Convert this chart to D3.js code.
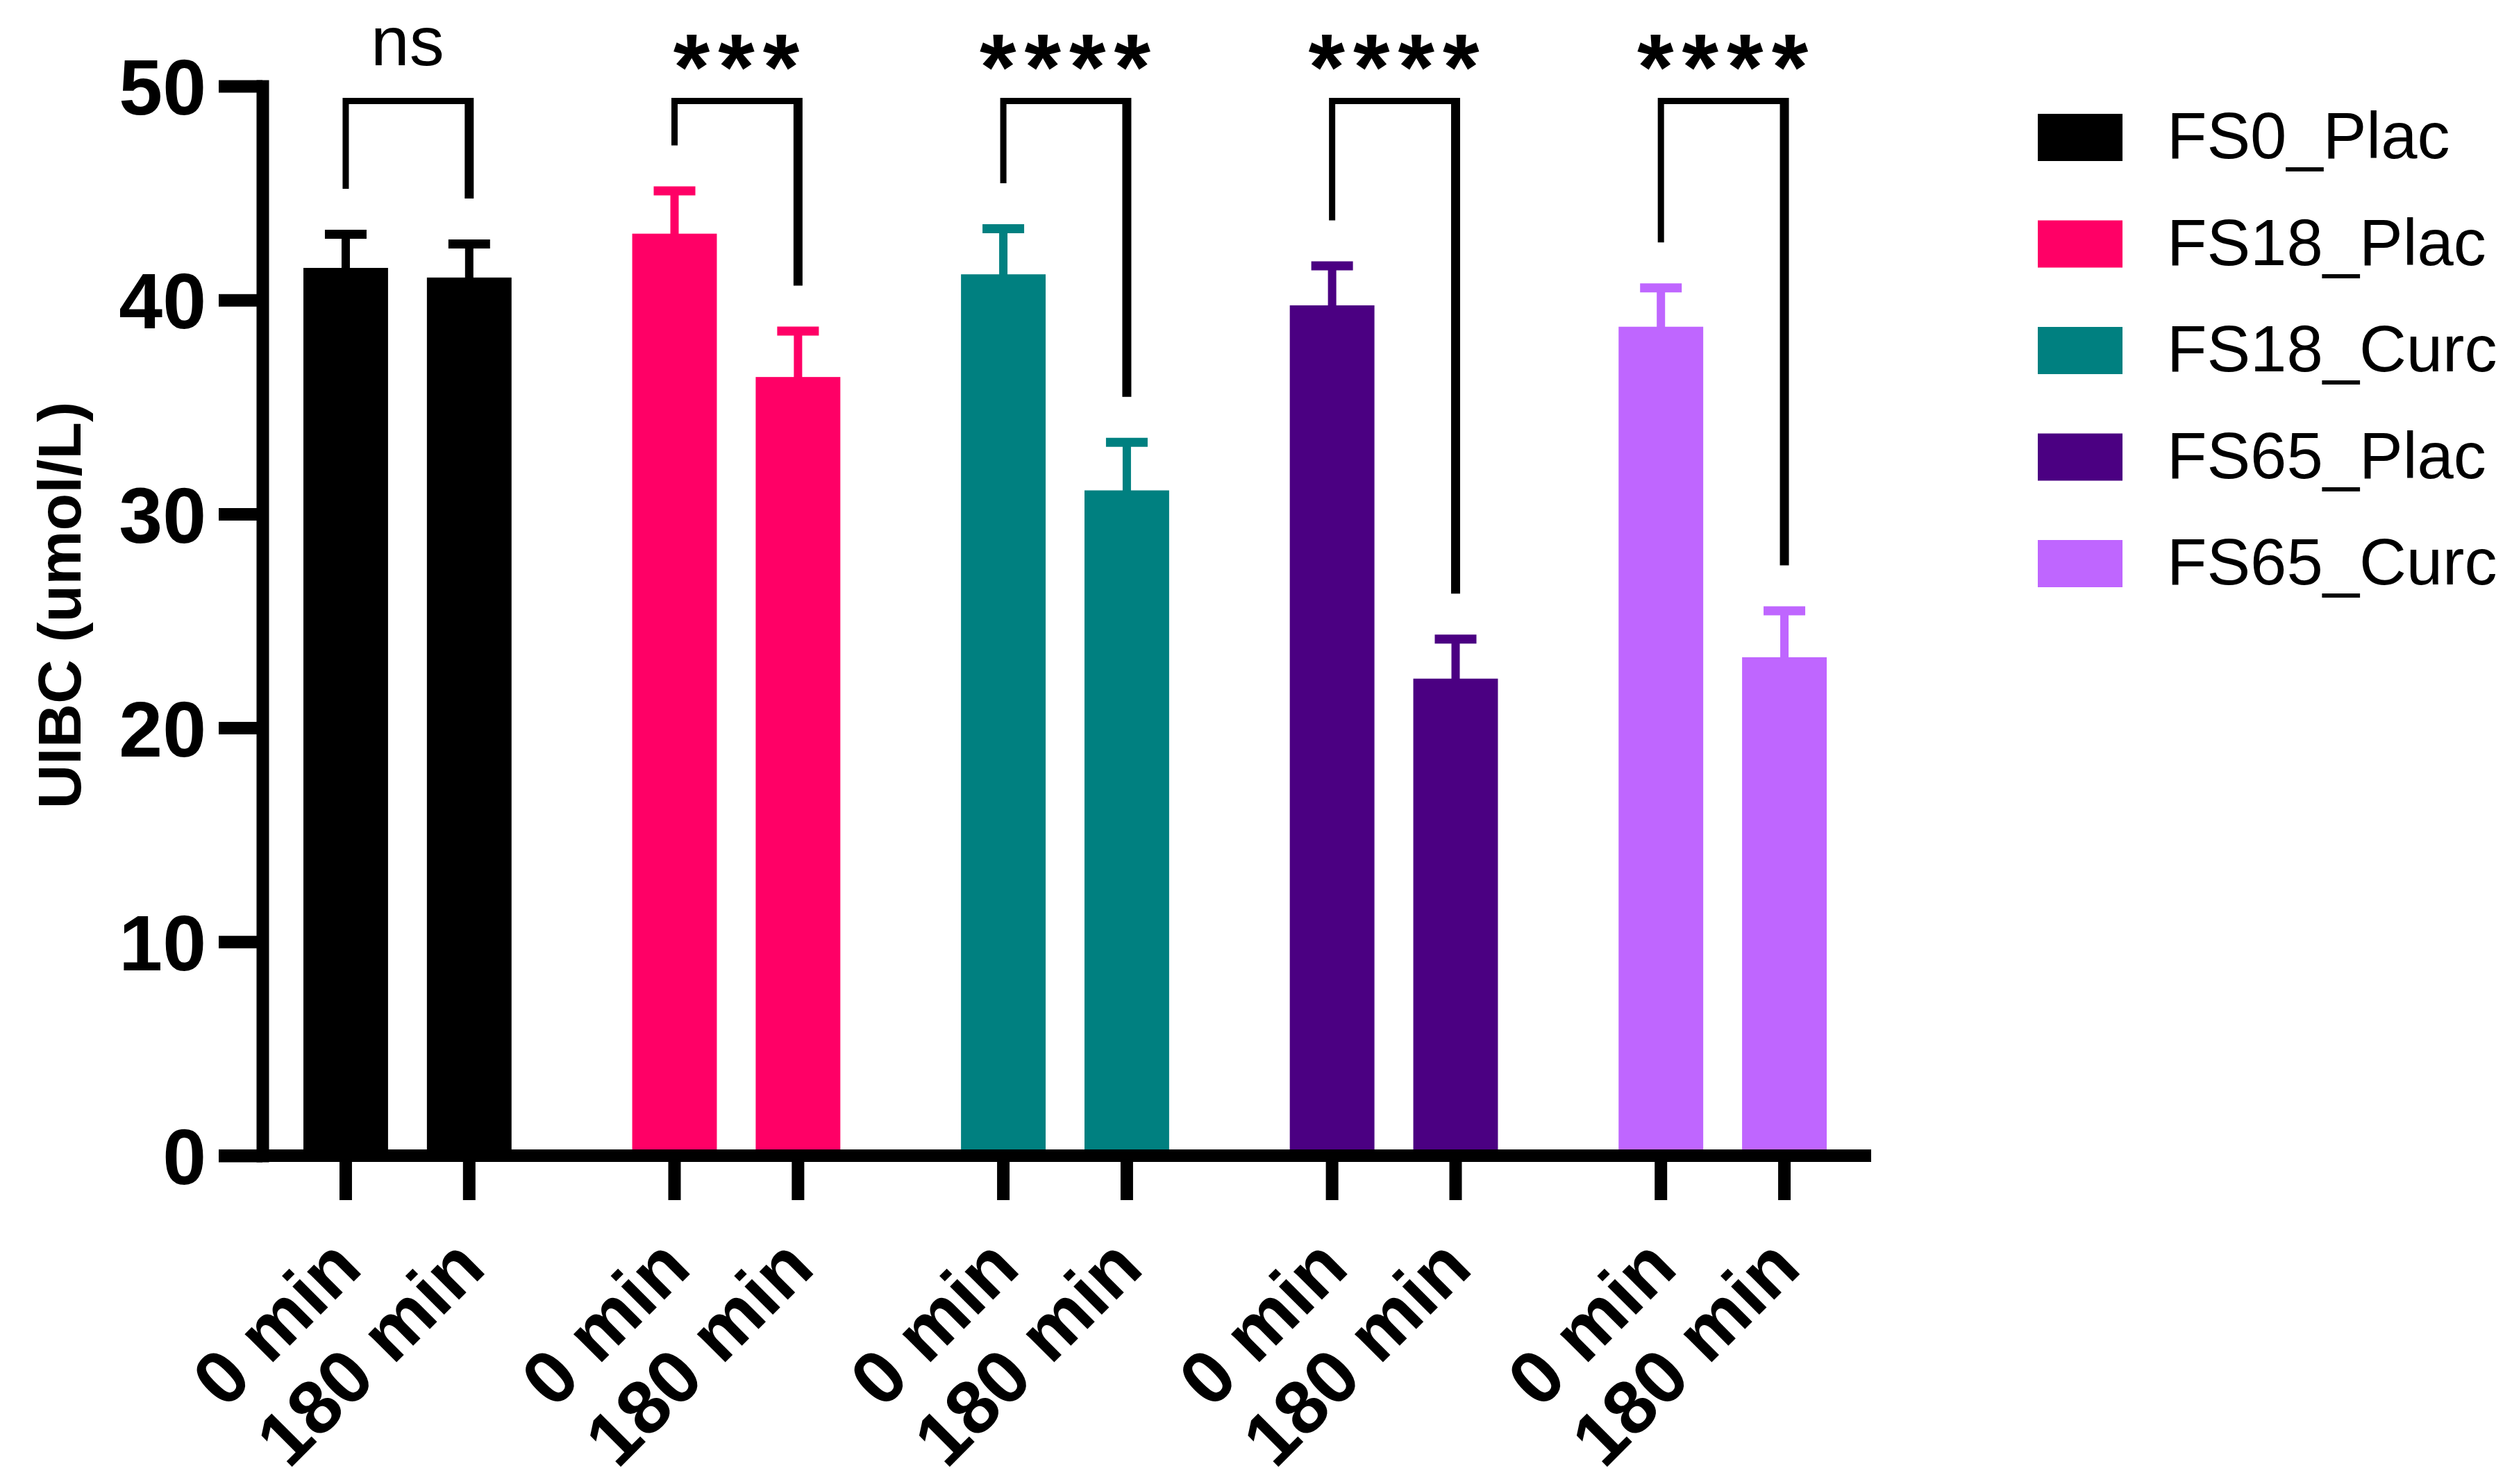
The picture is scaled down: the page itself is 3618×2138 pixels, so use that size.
<!DOCTYPE html>
<html><head><meta charset="utf-8">
<script src="https://cdn.jsdelivr.net/npm/d3@7"></script>
<style>html,body{margin:0;padding:0;background:#fff}svg{display:block}</style>
</head><body>
<svg id="chart" width="3618" height="2138"></svg>
<script>
// ---- data ----
const groups = ["FS0_Plac", "FS18_Plac", "FS18_Curc", "FS65_Plac", "FS65_Curc"];
const timepoints = ["0 min", "180 min"];
const colors = ["#000000", "#FF0066", "#008080", "#4B0082", "#BF66FF"];
const mean0 = [41.5, 43.1, 41.2, 39.75, 38.75];
const sem0 = [1.57, 2.0, 2.13, 1.85, 1.82];
const mean180 = [41.05, 36.4, 31.1, 22.3, 23.3];
const sem180 = [1.57, 2.15, 2.25, 1.85, 2.17];
const significance = ["ns", "***", "****", "****", "****"];
const yTicks = [0, 10, 20, 30, 40, 50];
const yTitle = "UIBC (umol/L)";

// ---- layout ----
const svg = d3.select("#chart");
svg.append("rect").attr("width", 3618).attr("height", 2138).attr("fill", "#fff");
const FONT = "'Liberation Sans', Arial, Helvetica, sans-serif";

const y = d3.scaleLinear().domain([0, 50]).range([1665, 124]);
const x0 = d3.scaleBand().domain(groups).range([437, 2631]).paddingInner(0.367).paddingOuter(0);
const x1 = d3.scaleBand().domain(timepoints).range([0, x0.bandwidth()]).paddingInner(0.3146).paddingOuter(0);

const bars = [];
groups.forEach((g, i) => {
  bars.push({group: g, gi: i, time: timepoints[0], mean: mean0[i], sem: sem0[i], color: colors[i]});
  bars.push({group: g, gi: i, time: timepoints[1], mean: mean180[i], sem: sem180[i], color: colors[i]});
});
bars.forEach(d => { d.x = x0(d.group) + x1(d.time); d.cx = d.x + x1.bandwidth() / 2; });

// bars
svg.append("g").selectAll("rect").data(bars).join("rect")
  .attr("x", d => d.x).attr("width", x1.bandwidth())
  .attr("y", d => y(d.mean)).attr("height", d => y(0) - y(d.mean))
  .attr("fill", d => d.color);

// error bars
const eb = svg.append("g");
eb.selectAll("line.stem").data(bars).join("line").attr("class", "stem")
  .attr("x1", d => d.cx).attr("x2", d => d.cx)
  .attr("y1", d => y(d.mean) + 1).attr("y2", d => y(d.mean + d.sem))
  .attr("stroke", d => d.color).attr("stroke-width", 12);
eb.selectAll("line.cap").data(bars).join("line").attr("class", "cap")
  .attr("x1", d => d.cx - 30).attr("x2", d => d.cx + 30)
  .attr("y1", d => y(d.mean + d.sem)).attr("y2", d => y(d.mean + d.sem))
  .attr("stroke", d => d.color).attr("stroke-width", 13);

// y axis
const yAxis = svg.append("g").attr("transform", "translate(378,0)")
  .call(d3.axisLeft(y).tickValues(yTicks).tickSize(63).tickSizeOuter(0).tickPadding(18));
yAxis.select(".domain").attr("stroke", "#000").attr("stroke-width", 18).attr("stroke-linecap", "square");
yAxis.selectAll(".tick line").attr("stroke", "#000").attr("stroke-width", 18);
yAxis.selectAll(".tick text").attr("font-family", FONT).attr("font-weight", "bold")
  .attr("font-size", 113).attr("fill", "#000").attr("dy", "0.36em");

// x axis
const xAxis = svg.append("g");
xAxis.append("line").attr("x1", 315).attr("x2", 2695).attr("y1", y(0)).attr("y2", y(0))
  .attr("stroke", "#000").attr("stroke-width", 18);
xAxis.selectAll("line.xt").data(bars).join("line").attr("class", "xt")
  .attr("x1", d => d.cx).attr("x2", d => d.cx).attr("y1", y(0)).attr("y2", y(0) + 64)
  .attr("stroke", "#000").attr("stroke-width", 18);
xAxis.selectAll("text").data(bars).join("text")
  .attr("transform", d => `translate(${d.cx + 27},${y(0) + 166}) rotate(-45)`)
  .attr("text-anchor", "end").attr("font-family", FONT).attr("font-weight", "bold")
  .attr("font-size", 109).attr("fill", "#000").text(d => d.time);

// y title
svg.append("text").attr("transform", "translate(116,872) rotate(-90)")
  .attr("text-anchor", "middle").attr("font-family", FONT).attr("font-weight", "bold")
  .attr("font-size", 88).attr("fill", "#000").text(yTitle);

// significance brackets
const bTop = y(49.3);
const sig = svg.append("g");
groups.forEach((g, i) => {
  const a = bars[2 * i], b = bars[2 * i + 1];
  const la = y(a.mean + a.sem) - 65.5, lb = y(b.mean + b.sem) - 65.5;
  sig.append("path")
    .attr("d", `M${a.cx},${la}V${bTop}H${b.cx}`)
    .attr("fill", "none").attr("stroke", "#000").attr("stroke-width", 9).attr("stroke-linejoin", "miter");
  sig.append("line").attr("x1", b.cx).attr("x2", b.cx).attr("y1", bTop - 4.5).attr("y2", lb)
    .attr("stroke", "#000").attr("stroke-width", 13);
  const cx = (a.cx + b.cx) / 2;
  if (significance[i] === "ns") {
    sig.append("text").attr("x", cx).attr("y", 94).attr("text-anchor", "middle")
      .attr("font-family", FONT).attr("font-size", 100).attr("fill", "#000").text(significance[i]);
  } else {
    sig.append("text").attr("x", cx + 6).attr("y", 143).attr("text-anchor", "middle")
      .attr("font-family", FONT).attr("font-weight", "bold").attr("letter-spacing", 12)
      .attr("font-size", 135).attr("fill", "#000").text(significance[i]);
  }
});

// legend
const legend = svg.append("g");
const lg = legend.selectAll("g").data(groups).join("g")
  .attr("transform", (d, i) => `translate(2935,${164 + i * 153.5})`);
lg.append("rect").attr("width", 122).attr("height", 68).attr("fill", (d, i) => colors[i]);
lg.append("text").attr("x", 186).attr("y", 64).attr("font-family", FONT)
  .attr("font-size", 94).attr("fill", "#000").text(d => d);
</script>
</body></html>
